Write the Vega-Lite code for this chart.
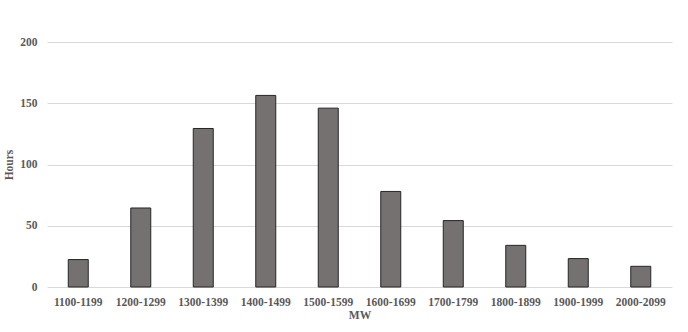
{
  "$schema": "https://vega.github.io/schema/vega-lite/v6.json",
  "width": 625,
  "height": 245,
  "autosize": {"type": "none"},
  "padding": {"left": 47, "top": 42, "right": 16, "bottom": 45},
  "background": "white",
  "config": {
    "view": {"stroke": null},
    "font": "Liberation Serif",
    "axis": {
      "labelFont": "Liberation Serif",
      "titleFont": "Liberation Serif",
      "labelColor": "#595959",
      "titleColor": "#595959",
      "labelFontWeight": "bold",
      "titleFontWeight": "bold",
      "labelFontSize": 11.5,
      "titleFontSize": 11.5
    }
  },
  "data": {
    "values": [
      {"MW": "1100-1199", "Hours": 22.4},
      {"MW": "1200-1299", "Hours": 64.5},
      {"MW": "1300-1399", "Hours": 129.4},
      {"MW": "1400-1499", "Hours": 156.4},
      {"MW": "1500-1599", "Hours": 146},
      {"MW": "1600-1699", "Hours": 78},
      {"MW": "1700-1799", "Hours": 54.2},
      {"MW": "1800-1899", "Hours": 34},
      {"MW": "1900-1999", "Hours": 23.2},
      {"MW": "2000-2099", "Hours": 16.9}
    ]
  },
  "mark": {"type": "bar", "color": "#767171", "stroke": "#262626", "strokeWidth": 1},
  "encoding": {
    "x": {
      "field": "MW",
      "type": "ordinal",
      "sort": null,
      "scale": {"paddingInner": 0.68, "paddingOuter": 0.34},
      "axis": {
        "title": "MW",
        "labelAngle": 0,
        "domain": false,
        "ticks": false,
        "labelPadding": 9,
        "titlePadding": 2
      }
    },
    "y": {
      "field": "Hours",
      "type": "quantitative",
      "scale": {"domain": [0, 200]},
      "axis": {
        "title": "Hours",
        "values": [0, 50, 100, 150, 200],
        "domain": false,
        "ticks": false,
        "gridColor": "#d9d9d9",
        "gridWidth": 1,
        "labelPadding": 10,
        "titlePadding": 5
      }
    }
  }
}
